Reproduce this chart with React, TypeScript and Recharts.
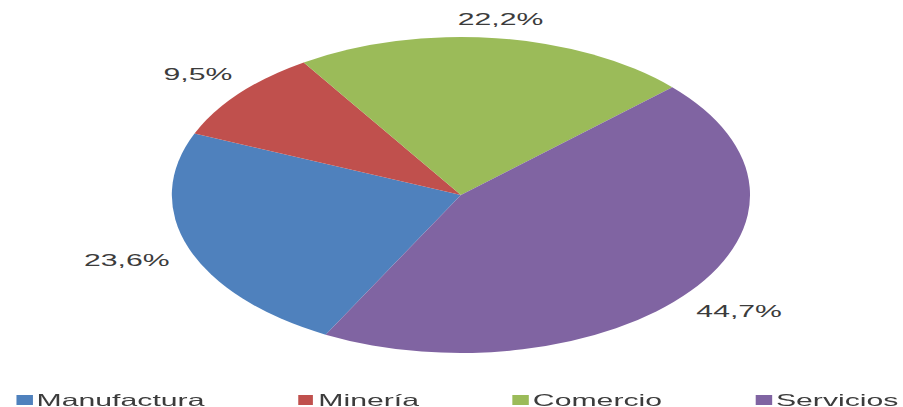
import React from "react";
import { PieChart, Pie, Cell, Legend } from "recharts";

const categories = ["Manufactura", "Minería", "Comercio", "Servicios"];
const shares = [23.6, 9.5, 22.2, 44.7];
const colors = ["#4F81BD", "#C0504D", "#9BBB59", "#8064A2"];

const data = categories.map((name, i) => ({ name, value: shares[i] }));

const BASE_W = 493.5;
const BASE_H = 407;
const SCALE_X = 903 / BASE_W;
const FONT = "'Liberation Sans', Arial, sans-serif";
const LABEL_SIZE = 16.5;
const RAD = Math.PI / 180;

const fmt = (v: number) => v.toFixed(1).replace(".", ",") + "%";

const charW = (ch: string) => {
  if (ch === ",") return 0.278;
  if (ch === "%") return 0.889;
  return 0.556;
};

const renderLabel = (props: any) => {
  const { cx, cy, midAngle, outerRadius, value } = props;
  const text = fmt(value);
  const w = text.split("").reduce((s, c) => s + charW(c), 0) * LABEL_SIZE;
  const cos = Math.cos(-midAngle * RAD);
  const sin = Math.sin(-midAngle * RAD);
  const half = Math.abs(cos) * (w / 2) + Math.abs(sin) * 4;
  const r = outerRadius + 12.5 + half;
  const x = cx + r * cos;
  const y = cy + r * sin;
  return (
    <text
      x={x}
      y={y}
      textAnchor="middle"
      dominantBaseline="central"
      fill="#3c3c3c"
      fontSize={LABEL_SIZE}
      fontFamily={FONT}
    >
      {text}
    </text>
  );
};

const renderLegend = () => (
  <div
    style={{
      display: "flex",
      justifyContent: "space-between",
      alignItems: "center",
      height: 20,
      fontFamily: FONT,
      fontSize: 16.5,
      color: "#3c3c3c",
    }}
  >
    {categories.map((name, i) => (
      <div key={name} style={{ display: "flex", alignItems: "center" }}>
        <span
          style={{
            display: "inline-block",
            width: 8.5,
            height: 9.5,
            background: colors[i],
            marginRight: 2.5,
          }}
        />
        <span>{name}</span>
      </div>
    ))}
  </div>
);

export default function App() {
  return (
    <div
      style={{
        position: "absolute",
        left: 0,
        top: 0,
        width: BASE_W,
        height: BASE_H,
        transform: `scaleX(${SCALE_X})`,
        transformOrigin: "0 0",
        background: "#fff",
      }}
    >
      <PieChart width={BASE_W} height={BASE_H} margin={{ top: 0, right: 0, bottom: 0, left: 0 }}>
        <Pie
          data={data}
          dataKey="value"
          nameKey="name"
          cx={251.9}
          cy={195}
          outerRadius={158}
          startAngle={-117.9}
          endAngle={-477.9}
          label={renderLabel}
          labelLine={false}
          isAnimationActive={false}
          stroke="none"
        >
          {data.map((d, i) => (
            <Cell key={d.name} fill={colors[i]} />
          ))}
        </Pie>
        <Legend
          content={renderLegend}
          wrapperStyle={{ left: 9, top: 390, bottom: "auto", width: 482, height: 20 }}
        />
      </PieChart>
    </div>
  );
}
